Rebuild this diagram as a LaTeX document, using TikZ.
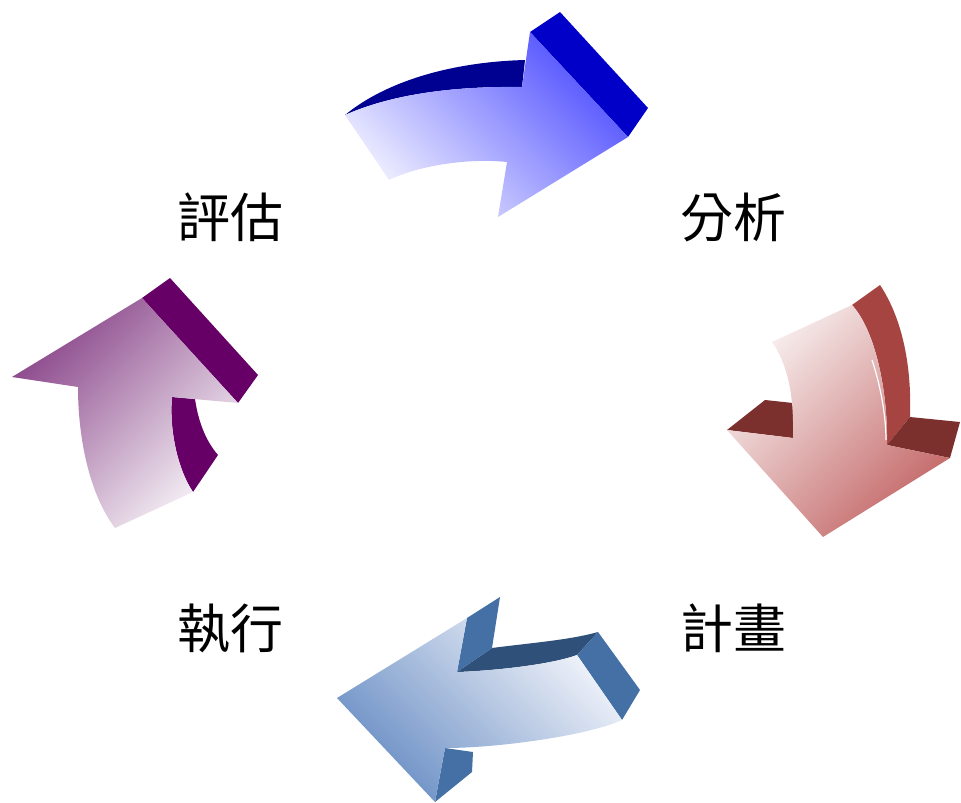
\documentclass[tikz,border=0pt]{standalone}
\usepackage{fontspec}
\newfontfamily\cjk{Noto Sans CJK TC}
\definecolor{bTopLight}{RGB}{242,242,255}
\definecolor{bTopDark}{RGB}{80,80,255}
\definecolor{bTopSide}{RGB}{0,0,200}
\definecolor{bTopStrip}{RGB}{0,0,145}
\definecolor{rLight}{RGB}{249,242,242}
\definecolor{rDark}{RGB}{196,104,104}
\definecolor{rSide}{RGB}{166,68,65}
\definecolor{rSideDark}{RGB}{123,48,46}
\definecolor{bBotLight}{RGB}{243,245,251}
\definecolor{bBotDark}{RGB}{105,142,196}
\definecolor{bBotSide}{RGB}{68,112,166}
\definecolor{bBotStrip}{RGB}{47,80,120}
\definecolor{pLight}{RGB}{247,243,247}
\definecolor{pDark}{RGB}{138,70,138}
\definecolor{pSide}{RGB}{102,0,102}
\tikzset{
  lbl/.style={font=\cjk\fontsize{53}{53}\selectfont, inner sep=0pt, text=black},
}
\begin{document}
\begin{tikzpicture}[x=1pt,y=-1pt]
\useasboundingbox (0,0) rectangle (961,803);
% ---------- top blue arrow ----------
\fill[bTopStrip] (345,115) .. controls (385,82) and (450,62) .. (525,60) -- (522,87) .. controls (450,86) and (390,95) .. (345,115) -- cycle;
\fill[bTopSide] (530,32) -- (560,12) -- (648,108) -- (628,137) -- cycle;
\shade[top color=bTopLight, bottom color=bTopDark, shading angle=135]
  (345,115) -- (389,180) .. controls (420,165) and (470,158) .. (507,162) -- (498,217) -- (628,137) -- (530,32) -- (522,87) .. controls (450,86) and (390,95) .. (345,115) -- cycle;
% ---------- right red arrow ----------
\fill[rSide] (852,305) -- (880,285) .. controls (900,315) and (912,360) .. (910,417) -- (887,445) .. controls (888,390) and (875,330) .. (852,305) -- cycle;
\fill[rSideDark] (887,445) -- (910,417) -- (960,422) -- (950,458) -- cycle;
\fill[rSideDark] (727,430) -- (765,400) -- (793,403) -- (793,438) -- cycle;
\shade[top color=rLight, bottom color=rDark, shading angle=45]
  (772,342) -- (852,305) .. controls (875,330) and (888,390) .. (887,445) -- (950,458) -- (823,537) -- (727,430) -- (793,438) .. controls (794,395) and (788,365) .. (772,342) -- cycle;
\draw[white, line width=1.2pt] (872,360) .. controls (882,390) and (886,420) .. (886,440);
% ---------- bottom blue arrow ----------
\fill[bBotStrip] (457,672) -- (492,648) .. controls (530,643) and (570,640) .. (598,632) -- (577,655) .. controls (550,665) and (490,671) .. (457,672) -- cycle;
\fill[bBotSide] (467,618) -- (500,597) -- (492,648) -- (457,672) -- cycle;
\fill[bBotSide] (577,655) -- (598,632) -- (640,690) -- (622,720) -- cycle;
\fill[bBotSide] (445,748) -- (473,752) -- (472,772) -- (435,802) -- cycle;
\shade[top color=bBotLight, bottom color=bBotDark, shading angle=-45]
  (337,698) -- (467,618) -- (457,672) .. controls (490,671) and (550,665) .. (577,655) -- (622,720) .. controls (590,735) and (500,748) .. (445,748) -- (435,802) -- cycle;
% ---------- left purple arrow ----------
\fill[pSide] (142,298) -- (170,278) -- (258,375) -- (238,403) -- cycle;
\fill[pSide] (172,397) -- (195,399) .. controls (198,420) and (205,440) .. (218,455) -- (193,492) .. controls (178,470) and (169,430) .. (172,397) -- cycle;
\shade[top color=pLight, bottom color=pDark, shading angle=225]
  (12,377) -- (142,298) -- (238,403) -- (172,397) .. controls (169,430) and (178,470) .. (193,492) -- (115,528) .. controls (90,495) and (78,440) .. (78,387) -- cycle;
% ---------- labels ----------
\node[lbl] (eval) at (230,217) {評估};
\node[lbl] (anal) at (733,217) {分析};
\node[lbl] (plan) at (733,628) {計畫};
\node[lbl] (exec) at (230,628) {執行};
\end{tikzpicture}
\end{document}
